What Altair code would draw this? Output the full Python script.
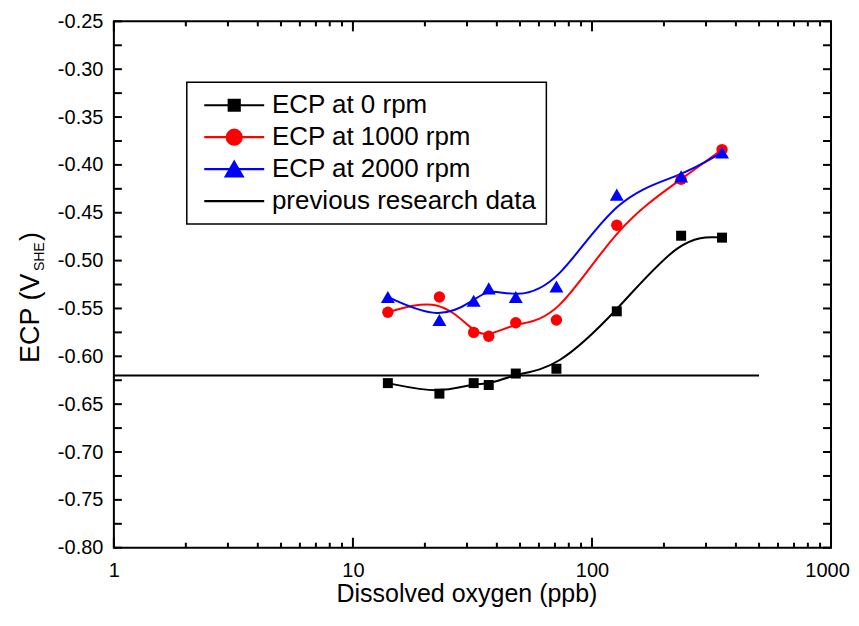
import altair as alt
import pandas as pd

# ---------------- data ----------------
do_ppb = [14, 23, 32, 37, 48, 71, 127, 236, 350]
ecp_0rpm = [-0.628, -0.639, -0.628, -0.630, -0.618, -0.613, -0.553, -0.474, -0.476]
ecp_1000rpm = [-0.554, -0.538, -0.575, -0.579, -0.565, -0.562, -0.463, -0.415, -0.384]
ecp_2000rpm = [-0.538, -0.562, -0.542, -0.529, -0.538, -0.527, -0.431, -0.412, -0.387]
prev_x = [1, 500]
prev_y = [-0.62, -0.62]

series_names = ["ECP at 0 rpm", "ECP at 1000 rpm", "ECP at 2000 rpm", "previous research data"]

x_major = [1, 10, 100, 1000]
x_minor = [2, 3, 4, 5, 6, 7, 8, 9, 20, 30, 40, 50, 60, 70, 80, 90,
           200, 300, 400, 500, 600, 700, 800, 900]
y_major = [-0.80, -0.75, -0.70, -0.65, -0.60, -0.55, -0.50, -0.45, -0.40, -0.35, -0.30, -0.25]
y_minor = [-0.775, -0.725, -0.675, -0.625, -0.575, -0.525, -0.475, -0.425, -0.375, -0.325, -0.275]
y_title_parts = ["ECP (V", "SHE", ")"]
x_title = "Dissolved oxygen (ppb)"

# ---------------- styles ----------------
FONT = "Liberation Sans"
W, H = 718, 527
colors = ["#000000", "#ff0000", "#0000ff", "#000000"]
marker_shapes = ["square", "circle", "triangle-up"]
marker_sizes = [100, 130, 196]
legend_paths = [
    "M-3,0H3M-0.55,-0.55H0.55V0.55H-0.55Z",
    "M-3,0H3M-0.75,0A0.75,0.75,0,1,1,0.75,0A0.75,0.75,0,1,1,-0.75,0Z",
    "M-3,0H3M0,-0.75L0.85,0.72L-0.85,0.72Z",
    "M-3,0H3",
]

xscale = alt.Scale(type="log", domain=[1, 1000], nice=False)
yscale = alt.Scale(domain=[-0.80, -0.25], nice=False, zero=False)

xaxis = alt.Axis(values=x_major, format="d", ticks=False, tickSize=0, domain=False, grid=False,
                 labelFont=FONT, labelFontSize=20, labelColor="black", labelPadding=13,
                 labelFlush=False, labelOverlap=False,
                 labelOffset={"condition": {"test": "datum.value >= 1000", "value": -4}, "value": 0},
                 title=x_title, titleFont=FONT, titleFontSize=25, titleFontWeight="normal",
                 titleColor="black", titlePadding=1, titleX=353, titleAlign="center")
yaxis = alt.Axis(values=y_major, labelExpr="replace(format(datum.value, '.2f'), '\u2212', '-')",
                 ticks=False, tickSize=0, domain=False, grid=False,
                 labelFont=FONT, labelFontSize=20, labelColor="black", labelPadding=11,
                 labelFlush=False, labelOverlap=False, title=None)


def X():
    return alt.X("x:Q", scale=xscale, axis=xaxis)


def Y():
    return alt.Y("y:Q", scale=yscale, axis=yaxis)


layers = []

# previous research data line
prev_df = pd.DataFrame({"x": prev_x, "y": prev_y})
layers.append(alt.Chart(prev_df).mark_line(color="black", strokeWidth=2).encode(x=X(), y=Y()))

# series curves and markers
series_vals = [ecp_0rpm, ecp_1000rpm, ecp_2000rpm]
for i, vals in enumerate(series_vals):
    df = pd.DataFrame({"x": do_ppb, "y": vals})
    layers.append(alt.Chart(df).mark_line(interpolate="basis", color=colors[i], strokeWidth=2)
                  .encode(x=X(), y=Y()))
for i, vals in enumerate(series_vals):
    df = pd.DataFrame({"x": do_ppb, "y": vals})
    layers.append(alt.Chart(df).mark_point(filled=True, opacity=1, shape=marker_shapes[i],
                                           size=marker_sizes[i], color=colors[i], strokeWidth=0)
                  .encode(x=X(), y=Y()))

# inward ticks (mirrored on all four sides)
for vals, ln in [(x_major, 10), (x_minor, 5)]:
    df = pd.DataFrame({"x": vals})
    layers.append(alt.Chart(df).mark_rule(color="black", strokeWidth=2)
                  .encode(x=X(), y=alt.value(H), y2=alt.value(H - ln)))
    layers.append(alt.Chart(df).mark_rule(color="black", strokeWidth=2)
                  .encode(x=X(), y=alt.value(0), y2=alt.value(ln)))
for vals, ln in [(y_major, 8), (y_minor, 8)]:
    df = pd.DataFrame({"y": vals})
    layers.append(alt.Chart(df).mark_rule(color="black", strokeWidth=2)
                  .encode(y=Y(), x=alt.value(0), x2=alt.value(ln)))
    layers.append(alt.Chart(df).mark_rule(color="black", strokeWidth=2)
                  .encode(y=Y(), x=alt.value(W), x2=alt.value(W - ln)))

# legend-only layer (no marks drawn, explicit domains)
leg = alt.Legend(title=None, orient="none", legendX=73, legendY=61, symbolStrokeWidth=2.2)
legend_df = pd.DataFrame({"series": series_names})
layers.append(
    alt.Chart(legend_df).transform_filter("false")
    .mark_point(filled=True, opacity=1, strokeWidth=2.2)
    .encode(
        color=alt.Color("series:N", scale=alt.Scale(domain=series_names, range=colors), legend=leg),
        stroke=alt.Stroke("series:N", scale=alt.Scale(domain=series_names, range=colors), legend=leg),
        shape=alt.Shape("series:N", scale=alt.Scale(domain=series_names, range=legend_paths), legend=leg),
    )
)

# y-axis title with subscript
title_pos = [(-74.5, 342, 27), (-70, 250, 14), (-74.5, 220, 27)]
for part, (px, py, fs) in zip(y_title_parts, title_pos):
    df = pd.DataFrame({"t": [part]})
    layers.append(alt.Chart(df).mark_text(angle=270, align="left", baseline="alphabetic",
                                          font=FONT, fontSize=fs, color="black")
                  .encode(text="t:N", x=alt.value(px), y=alt.value(py)))

chart = (
    alt.layer(*layers)
    .properties(width=W, height=H, autosize=alt.AutoSizeParams(type="none"),
                padding={"left": 106, "top": 13, "right": 20, "bottom": 70})
    .configure_view(stroke="black", strokeWidth=2)
    .configure_legend(labelFont=FONT, labelFontSize=26, labelColor="black", labelLimit=600,
                      symbolSize=400, symbolStrokeWidth=2.2, symbolOffset=24.5, labelOffset=24.7,
                      rowPadding=6, padding=10, strokeColor="black", strokeWidth=1.5,
                      fillColor="white")
)

chart.save("out.html", embed_options={"renderer": "svg", "actions": False})
